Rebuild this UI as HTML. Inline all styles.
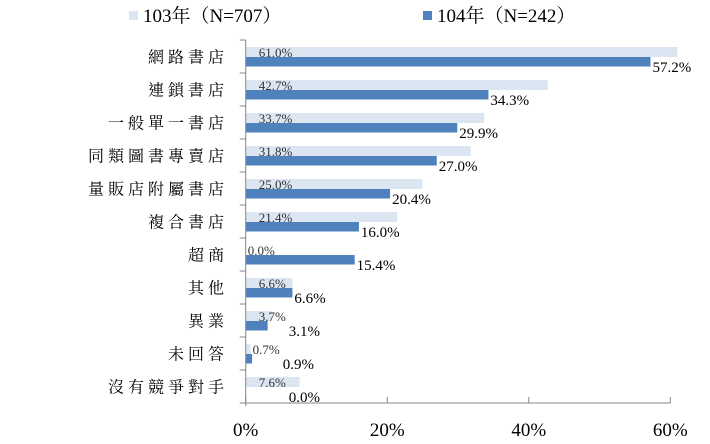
<!DOCTYPE html>
<html><head><meta charset="utf-8"><style>
html,body{margin:0;padding:0;background:#fff;}
svg{display:block;}
</style></head><body>
<svg id="chart" width="710" height="444" xmlns="http://www.w3.org/2000/svg" font-family="'Liberation Serif','Noto Serif CJK TC',serif">
<g>
  <rect x="129" y="11" width="9" height="9" fill="#dce6f2"/>
  <text x="143" y="22" font-size="19" fill="#000">103年（N=707）</text>
  <rect x="423" y="11" width="9" height="9" fill="#4f81bd"/>
  <text x="437" y="22" font-size="19" fill="#000">104年（N=242）</text>
</g>
<g id="plot"></g>
</svg>
<script>
const categories=["網路書店","連鎖書店","一般單一書店","同類圖書專賣店","量販店附屬書店","複合書店","超商","其他","異業","未回答","沒有競爭對手"];
const series103=[61.0,42.7,33.7,31.8,25.0,21.4,0.0,6.6,3.7,0.7,7.6];
const series104=[57.2,34.3,29.9,27.0,20.4,16.0,15.4,6.6,3.1,0.9,0.0];
const tickValues=[0,20,40,60];
const tickLabels=["0%","20%","40%","60%"];

const NS="http://www.w3.org/2000/svg";
const g=document.getElementById('plot');
const x0=245.7,x60=670.3,top0=40,band=33;
function xs(v){return x0+(x60-x0)*v/60;}
function ys(i){return top0+band*i;}
function mk(tag,attrs,parent){const e=document.createElementNS(NS,tag);for(const k in attrs)e.setAttribute(k,attrs[k]);(parent||g).appendChild(e);return e;}
const n=categories.length;
const bottom=ys(n);
// bars
for(let i=0;i<n;i++){
  const y=ys(i);
  const r1=mk('rect',{x:x0,y:y+7,width:Math.max(0,xs(series103[i])-x0),height:10,fill:'#dce6f2'});
  
  
  const r2=mk('rect',{x:x0,y:y+17,width:Math.max(0,xs(series104[i])-x0),height:9.5,fill:'#4f81bd'});
  
  
  const lx=x0+Math.min(13,xs(series103[i])-x0+2);
  const t1=mk('text',{x:lx,y:y+17,'font-size':13,fill:'#333'});
  t1.textContent=series103[i].toFixed(1)+'%';
  
  
  const lightRight=lx+t1.getComputedTextLength();
  const dx=Math.max(xs(series104[i])+2,lightRight+3);
  const t2=mk('text',{x:dx,y:y+32,'font-size':15,fill:'#000'});
  t2.textContent=series104[i].toFixed(1)+'%';
  
  
  const c=mk('text',{x:228,y:y+band/2+6,'font-size':16,'text-anchor':'end','letter-spacing':'4',fill:'#000'});
  c.textContent=categories[i];
  
  
}
// axes
const ax=mk('line',{x1:x0,y1:top0,x2:x0,y2:bottom+3,stroke:'#868686','stroke-width':1});


for(let i=0;i<=n;i++){
  const t=mk('line',{x1:x0-6,y1:ys(i),x2:x0,y2:ys(i),stroke:'#868686','stroke-width':1});
  
  
}
const bx=mk('line',{x1:x0,y1:bottom,x2:x60,y2:bottom,stroke:'#868686','stroke-width':1});


for(let k=0;k<tickValues.length;k++){
  const X=xs(tickValues[k]);
  const t=mk('line',{x1:X,y1:bottom-6,x2:X,y2:bottom,stroke:'#868686','stroke-width':1});
  
  
  const l=mk('text',{x:X,y:bottom+33,'font-size':19,'text-anchor':'middle',fill:'#000'});
  l.textContent=tickLabels[k];
  
  
}
</script>
</body></html>
